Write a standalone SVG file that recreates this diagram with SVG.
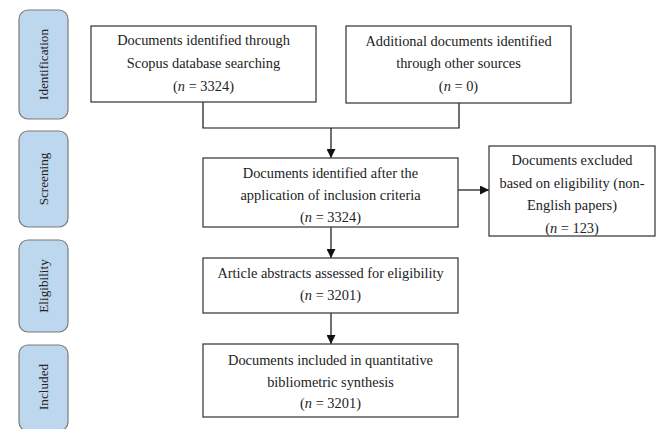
<svg xmlns="http://www.w3.org/2000/svg" width="663" height="429" viewBox="0 0 663 429">
<style>
.phase rect{fill:#bdd7ee;stroke:#7a7a7a;stroke-width:1.2}
.phase text{font-family:"Liberation Serif","DejaVu Serif",serif;font-size:13.2px;fill:#222;text-anchor:middle}
.box rect{fill:#fff;stroke:#404040;stroke-width:1.3}
.box text{font-family:"Liberation Serif","DejaVu Serif",serif;font-size:14.4px;fill:#222;text-anchor:middle}
.conn path{fill:none;stroke:#111;stroke-width:1.2}
</style>
<defs>
<marker id="ah" viewBox="0 0 10 10" refX="10" refY="5" markerWidth="9" markerHeight="9" markerUnits="userSpaceOnUse" orient="auto">
<path d="M0,0 L10,5 L0,10 z" fill="#111"/>
</marker>
</defs>
<rect width="663" height="429" fill="#fff"/>

<g id="phase-identification" class="phase">
<rect x="19" y="10" width="49" height="109" rx="9"/>
<text transform="translate(43.5,64.5) rotate(-90)" dy="0.35em">Identification</text>
</g>
<g id="phase-screening" class="phase">
<rect x="19" y="131" width="49" height="96" rx="9"/>
<text transform="translate(43.5,179) rotate(-90)" dy="0.35em">Screening</text>
</g>
<g id="phase-eligibility" class="phase">
<rect x="19" y="240" width="49" height="92" rx="9"/>
<text transform="translate(43.5,286) rotate(-90)" dy="0.35em">Eligibility</text>
</g>
<g id="phase-included" class="phase">
<rect x="19" y="345" width="49" height="86" rx="9"/>
<text transform="translate(43.5,387) rotate(-90)" dy="0.35em">Included</text>
</g>

<g id="connectors" class="conn">
<path d="M203,102 V128 H459 V103"/>
<path d="M331,128 V158" marker-end="url(#ah)"/>
<path d="M458,190 H489" marker-end="url(#ah)"/>
<path d="M331,227 V258" marker-end="url(#ah)"/>
<path d="M331,313 V344" marker-end="url(#ah)"/>
</g>

<g id="box-scopus" class="box">
<rect x="91" y="26" width="225" height="76"/>
<text x="203.5" y="45">Documents identified through</text>
<text x="203.5" y="68">Scopus database searching</text>
<text x="203.5" y="91">(<tspan font-style="italic">n</tspan> = 3324)</text>
</g>
<g id="box-other" class="box">
<rect x="346" y="26" width="225" height="77"/>
<text x="458.5" y="46">Additional documents identified</text>
<text x="458.5" y="68">through other sources</text>
<text x="458.5" y="91">(<tspan font-style="italic">n</tspan> = 0)</text>
</g>
<g id="box-inclusion" class="box">
<rect x="203" y="158" width="255" height="69"/>
<text x="330.5" y="178">Documents identified after the</text>
<text x="330.5" y="200">application of inclusion criteria</text>
<text x="330.5" y="222">(<tspan font-style="italic">n</tspan> = 3324)</text>
</g>
<g id="box-excluded" class="box">
<rect x="489" y="146" width="166" height="90"/>
<text x="572" y="165">Documents excluded</text>
<text x="572" y="188">based on eligibility (non-</text>
<text x="572" y="210">English papers)</text>
<text x="572" y="233">(<tspan font-style="italic">n</tspan> = 123)</text>
</g>
<g id="box-abstracts" class="box">
<rect x="203" y="258" width="255" height="55"/>
<text x="330.5" y="278">Article abstracts assessed for eligibility</text>
<text x="330.5" y="300">(<tspan font-style="italic">n</tspan> = 3201)</text>
</g>
<g id="box-synthesis" class="box">
<rect x="203" y="344" width="255" height="73"/>
<text x="330.5" y="365">Documents included in quantitative</text>
<text x="330.5" y="387">bibliometric synthesis</text>
<text x="330.5" y="408">(<tspan font-style="italic">n</tspan> = 3201)</text>
</g>
</svg>
